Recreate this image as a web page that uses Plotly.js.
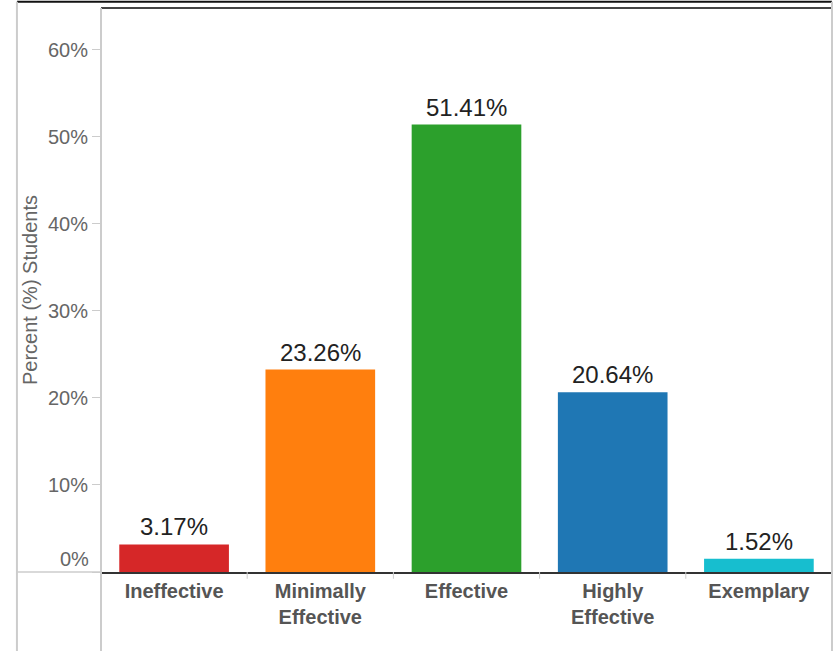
<!DOCTYPE html>
<html>
<head>
<meta charset="utf-8">
<script src="https://cdn.plot.ly/plotly-3.0.1.min.js"></script>
<style>html,body{margin:0;padding:0;background:#fff;}#chart{width:839px;height:651px;}</style>
</head>
<body>
<div id="chart"></div>
<script>
const categories = ["Ineffective", "Minimally<br>Effective", "Effective", "Highly<br>Effective", "Exemplary"];
const values = [3.17, 23.26, 51.41, 20.64, 1.52];
const labels = ["3.17%", "23.26%", "51.41%", "20.64%", "1.52%"];
const colors = ["#d62728", "#ff7f0e", "#2ca02c", "#1f77b4", "#17becf"];
const yTickVals = [0, 10, 20, 30, 40, 50, 60];
const yTickText = ["0%", "10%", "20%", "30%", "40%", "50%", "60%"];

const tickFont = {family: "Liberation Sans, Arial, sans-serif", size: 20, color: "#666"};

const trace = {
  type: "bar",
  x: categories,
  y: values,
  marker: {color: colors},
  width: 0.75,
  hoverinfo: "none"
};

const valueAnnotations = categories.map((c, i) => ({
  x: c, y: values[i], xref: "x", yref: "y",
  text: labels[i], showarrow: false,
  yanchor: "bottom", yshift: 2,
  font: {family: "Liberation Sans, Arial, sans-serif", size: 24, color: "#222"}
}));

// The baseline tick label sits just above the zero line
const zeroLabel = {
  x: 0, xref: "paper", xanchor: "right", xshift: -10,
  y: yTickVals[0], yref: "y", yanchor: "bottom", yshift: 0,
  text: yTickText[0], showarrow: false, font: tickFont
};

const sep = (xv) => ({type: "line", xref: "x", yref: "paper", x0: xv, x1: xv, y0: 0, y1: -0.012, line: {color: "#ccc", width: 1}});

const layout = {
  width: 839, height: 651,
  margin: {l: 101, r: 7, t: 8, b: 79},
  paper_bgcolor: "#fff", plot_bgcolor: "#fff",
  showlegend: false,
  xaxis: {
    tickfont: {family: "Liberation Sans, Arial, sans-serif", size: 20, color: "#555", weight: "bold"},
    showline: true, linecolor: "#333", linewidth: 2,
    ticks: "", showgrid: false, zeroline: false,
    fixedrange: true
  },
  yaxis: {
    range: [0, 64.8],
    tickvals: yTickVals, ticktext: yTickText.map((t, i) => i === 0 ? "" : t),
    tickfont: tickFont,
    ticks: "outside", ticklen: 8, tickcolor: "#ccc",
    showgrid: false, zeroline: false,
    showline: false,
    title: {text: "Percent (%) Students", font: {family: "Liberation Sans, Arial, sans-serif", size: 20, color: "#666"}, standoff: 4},
    fixedrange: true
  },
  annotations: valueAnnotations.concat([zeroLabel]),
  shapes: [
    {type: "line", xref: "paper", yref: "paper", x0: -0.115, x1: 1.0, y0: 1.011, y1: 1.011, line: {color: "#111", width: 2}},
    {type: "line", xref: "paper", yref: "paper", x0: 0, x1: 1.0, y0: 1.0, y1: 1.0, line: {color: "#444", width: 2}},
    {type: "line", xref: "paper", yref: "paper", x0: -0.115, x1: -0.115, y0: -0.14, y1: 1.011, line: {color: "#ccc", width: 2}},
    {type: "line", xref: "paper", yref: "paper", x0: 0, x1: 0, y0: -0.14, y1: 1.0, line: {color: "#ccc", width: 2}},
    {type: "line", xref: "paper", yref: "paper", x0: 1.0, x1: 1.0, y0: -0.14, y1: 1.011, line: {color: "#ccc", width: 2}},
    {type: "line", xref: "paper", yref: "paper", x0: -0.115, x1: 0, y0: 0, y1: 0, line: {color: "#ccc", width: 1.5}},
    sep(0.5), sep(1.5), sep(2.5), sep(3.5)
  ]
};

Plotly.newPlot("chart", [trace], layout, {displayModeBar: false, staticPlot: true});
</script>
</body>
</html>
